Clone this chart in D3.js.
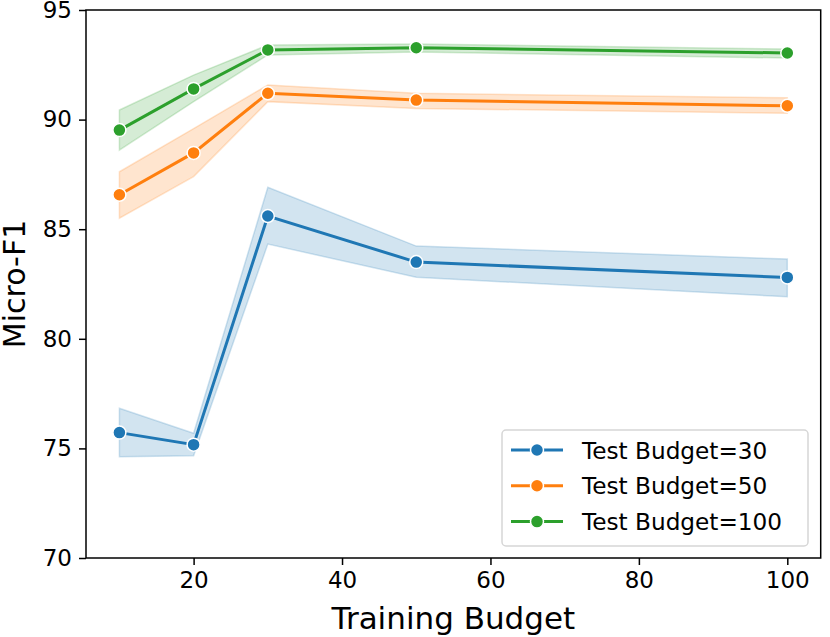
<!DOCTYPE html>
<html>
<head>
<meta charset="utf-8">
<script src="https://cdn.jsdelivr.net/npm/d3@7"></script>
<style>
  body { margin: 0; background: #fff; }
  svg text { font-family: "DejaVu Sans", sans-serif; fill: #000; }
</style>
</head>
<body>
<div id="chart"></div>
<script>
// training budgets on the x axis
const trainingBudget = [10, 20, 30, 50, 100];
const seriesNames = ["Test Budget=30", "Test Budget=50", "Test Budget=100"];
const seriesColors = ["#1f77b4", "#ff7f0e", "#2ca02c"];

// mean and confidence band per series
const mean30 = [75.72, 75.17, 85.60, 83.50, 82.80];
const lo30   = [74.62, 74.67, 84.32, 82.81, 81.92];
const hi30   = [76.83, 75.69, 86.91, 84.23, 83.64];

const mean50 = [86.57, 88.48, 91.20, 90.89, 90.63];
const lo50   = [85.50, 87.40, 90.82, 90.51, 90.29];
const hi50   = [87.62, 89.59, 91.58, 91.20, 91.00];

const mean100 = [89.52, 91.40, 93.18, 93.28, 93.04];
const lo100   = [88.61, 90.82, 92.95, 93.08, 92.81];
const hi100   = [90.44, 92.03, 93.40, 93.45, 93.22];

const xTicks = [20, 40, 60, 80, 100];
const yTicks = [70, 75, 80, 85, 90, 95];

const series = [
    { name: seriesNames[0], mean: mean30, lo: lo30, hi: hi30 },
    { name: seriesNames[1], mean: mean50, lo: lo50, hi: hi50 },
    { name: seriesNames[2], mean: mean100, lo: lo100, hi: hi100 }
];

const W = 830, H = 637;
const margin = { top: 10, right: 9.3, bottom: 79, left: 86 };
const width = W - margin.left - margin.right;
const height = H - margin.top - margin.bottom;

const svg = d3.select("#chart").append("svg")
    .attr("width", W)
    .attr("height", H)
    .append("g")
    .attr("transform", "translate(" + margin.left + "," + margin.top + ")");

// scales (matplotlib-like 5% padding on x)
const x = d3.scaleLinear()
    .domain([5.5, 104.5])
    .range([0, width]);

const y = d3.scaleLinear()
    .domain([70, 95])
    .range([height, 0]);

const color = d3.scaleOrdinal()
    .domain(seriesNames)
    .range(seriesColors);

// bands
const band = d3.area()
    .x((d, i) => x(trainingBudget[i]))
    .y0(d => y(d[0]))
    .y1(d => y(d[1]));

const line = d3.line()
    .x((d, i) => x(trainingBudget[i]))
    .y(d => y(d));

series.forEach(s => {
    let pairs = s.lo.map((v, i) => [v, s.hi[i]]);
    svg.append("path")
        .datum(pairs)
        .attr("d", band)
        .attr("fill", color(s.name))
        .attr("fill-opacity", 0.2)
        .attr("stroke", color(s.name))
        .attr("stroke-opacity", 0.2)
        .attr("stroke-width", 1.5);
});

series.forEach(s => {
    svg.append("path")
        .datum(s.mean)
        .attr("d", line)
        .attr("fill", "none")
        .attr("stroke", color(s.name))
        .attr("stroke-width", 3);

    svg.selectAll(null)
        .data(s.mean)
        .enter().append("circle")
        .attr("cx", (d, i) => x(trainingBudget[i]))
        .attr("cy", d => y(d))
        .attr("r", 6.5)
        .attr("fill", color(s.name))
        .attr("stroke", "#fff")
        .attr("stroke-width", 1.5);
});

// axes
const xAxis = d3.axisBottom(x).tickValues(xTicks).tickSize(7).tickPadding(7).tickSizeOuter(0);
const yAxis = d3.axisLeft(y).tickValues(yTicks).tickSize(7).tickPadding(7).tickSizeOuter(0);

let gx = svg.append("g")
    .attr("class", "x-axis axis")
    .attr("transform", "translate(0," + height + ")")
    .call(xAxis);

let gy = svg.append("g")
    .attr("class", "y-axis axis")
    .call(yAxis);

[gx, gy].forEach(g => {
    g.select(".domain").remove();
    g.selectAll(".tick line").attr("stroke", "#000").attr("stroke-width", 1.5);
    g.selectAll(".tick text").style("font-size", "23px");
});

// frame
svg.append("rect")
    .attr("width", width)
    .attr("height", height)
    .attr("fill", "none")
    .attr("stroke", "#000")
    .attr("stroke-width", 1.5);

// axis labels
svg.append("text")
    .attr("x", width / 2)
    .attr("y", 618.5)
    .style("text-anchor", "middle")
    .style("font-size", "31px")
    .text("Training Budget");

svg.append("text")
    .attr("transform", "rotate(-90)")
    .attr("x", -height / 2)
    .attr("y", -61)
    .style("text-anchor", "middle")
    .style("font-size", "30px")
    .text("Micro-F1");

// legend
let legend = svg.append("g")
    .attr("transform", `translate(${502 - margin.left}, ${430 - margin.top})`);

legend.append("rect")
    .attr("width", 306)
    .attr("height", 116)
    .attr("rx", 4)
    .attr("fill", "#fff")
    .attr("fill-opacity", 0.8)
    .attr("stroke", "#d6d6d6")
    .attr("stroke-width", 1.5);

seriesNames.forEach((name, i) => {
    let item = legend.append("g")
        .attr("transform", `translate(0, ${20 + i * 35.8})`);

    item.append("line")
        .attr("x1", 9)
        .attr("x2", 61)
        .attr("stroke", color(name))
        .attr("stroke-width", 3);

    item.append("circle")
        .attr("cx", 35)
        .attr("r", 6.5)
        .attr("fill", color(name))
        .attr("stroke", "#fff")
        .attr("stroke-width", 1.5);

    item.append("text")
        .attr("x", 80)
        .attr("y", 8.5)
        .style("font-size", "23.2px")
        .text(name);
});
</script>
</body>
</html>
